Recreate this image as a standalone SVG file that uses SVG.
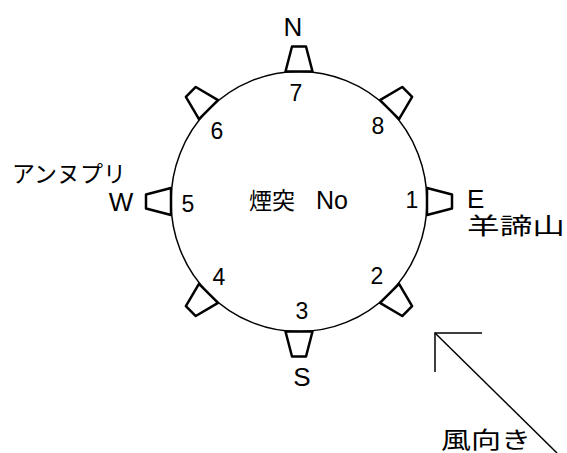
<svg xmlns="http://www.w3.org/2000/svg" width="567" height="453" viewBox="0 0 567 453">
<style>
.ring{fill:none;stroke:#000;stroke-width:1.5}
.ch{fill:#fff;stroke:#000;stroke-width:2.5;stroke-linejoin:round}
.num{font-family:"Liberation Sans",Arial,sans-serif;font-size:23px;fill:#000;text-anchor:middle}
.dir{font-family:"Liberation Sans",Arial,sans-serif;font-size:26px;fill:#000}
.jp{font-family:"Noto Sans CJK JP",sans-serif;font-size:23px;fill:#000}
.arr{fill:none;stroke:#000;stroke-width:1.5}
</style>
<defs>
<path id="chim" d="M-13.5,0 L13.5,0 L7,-25 L-7,-25 Z"/>
</defs>
<rect width="567" height="453" fill="#fff"/>
<g id="stack-ring">
<ellipse class="ring" cx="299" cy="201.5" rx="128" ry="130"/>
</g>
<g id="chimneys">
<g id="chimney-7"><use href="#chim" class="ch" transform="translate(299,71.5) rotate(0)"/><text class="num" x="296" y="101">7</text></g>
<g id="chimney-8"><use href="#chim" class="ch" transform="translate(389.5,109.6) rotate(45)"/><text class="num" x="378" y="134">8</text></g>
<g id="chimney-1"><use href="#chim" class="ch" transform="translate(427,201.5) rotate(90)"/><text class="num" x="412" y="208">1</text></g>
<g id="chimney-2"><use href="#chim" class="ch" transform="translate(389.5,293.4) rotate(135)"/><text class="num" x="377" y="284">2</text></g>
<g id="chimney-3"><use href="#chim" class="ch" transform="translate(299,331.5) rotate(180)"/><text class="num" x="302" y="319">3</text></g>
<g id="chimney-4"><use href="#chim" class="ch" transform="translate(208.5,293.4) rotate(225)"/><text class="num" x="219" y="285">4</text></g>
<g id="chimney-5"><use href="#chim" class="ch" transform="translate(171,201.5) rotate(270)"/><text class="num" x="188" y="212">5</text></g>
<g id="chimney-6"><use href="#chim" class="ch" transform="translate(208.5,109.6) rotate(315)"/><text class="num" x="217" y="139">6</text></g>
</g>
<g id="labels">
<text class="dir" x="293" y="36" text-anchor="middle">N</text>
<text class="dir" x="302" y="386" text-anchor="middle">S</text>
<text class="dir" x="121" y="211" text-anchor="middle">W</text>
<text class="dir" x="467" y="208">E</text>
<text class="jp" x="12" y="182">アンヌプリ</text>
<text class="jp" x="467" y="234" font-size="21" textLength="98" lengthAdjust="spacingAndGlyphs">羊諦山</text>
<text class="jp" x="249" y="209">煙突<tspan font-family="Liberation Sans, Arial, sans-serif" font-size="25" x="316">No</tspan></text>
<text class="jp" x="441" y="448" font-size="22" textLength="90" lengthAdjust="spacingAndGlyphs">風向き</text>
</g>
<g id="connectors">
<line class="arr" x1="435" y1="333" x2="557" y2="453"/>
<polyline class="arr" points="482,333 435,333 435,372"/>
</g>
</svg>
